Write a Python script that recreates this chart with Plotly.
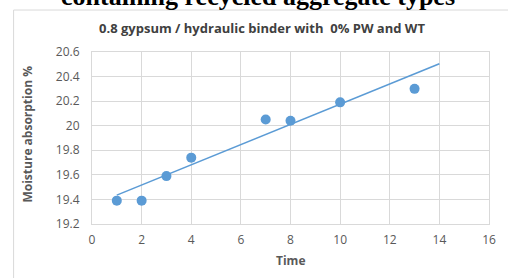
import plotly.graph_objects as go

# Data
time_vals = [1, 2, 3, 4, 7, 8, 10, 13]
moisture_vals = [19.39, 19.39, 19.59, 19.74, 20.05, 20.04, 20.19, 20.30]
trend_x = [1, 14]
trend_y = [19.435, 20.505]

x_ticks = [0, 2, 4, 6, 8, 10, 12, 14, 16]
y_ticks = [19.2, 19.4, 19.6, 19.8, 20.0, 20.2, 20.4, 20.6]
y_tick_text = ["19.2", "19.4", "19.6", "19.8", "20", "20.2", "20.4", "20.6"]

chart_title = "0.8 gypsum / hydraulic binder with&nbsp; 0% PW and WT"
caption_text = "containing recycled aggregate types"
x_title = "Time"
y_title = "Moisture absorption %"

blue = "#5b9bd5"
grid = "#d9d9d9"
label_col = "#595959"

fig = go.Figure()
fig.add_trace(go.Scatter(x=trend_x, y=trend_y, mode="lines",
                         line=dict(color=blue, width=1.6), hoverinfo="skip",
                         showlegend=False))
fig.add_trace(go.Scatter(x=time_vals, y=moisture_vals, mode="markers",
                         marker=dict(color=blue, size=10), showlegend=False))

fig.update_layout(
    width=508, height=278,
    margin=dict(l=92, r=16, t=52, b=54),
    paper_bgcolor="white", plot_bgcolor="white",
    font=dict(family="Open Sans", color=label_col, size=12),
    xaxis=dict(range=[0, 16], tickvals=x_ticks, showgrid=True, gridcolor=grid,
               gridwidth=1, showline=True, linecolor=grid, mirror=True,
               zeroline=False, ticks="outside", ticklen=5, tickcolor="rgba(0,0,0,0)",
               tickfont=dict(size=12, color=label_col)),
    yaxis=dict(range=[19.2, 20.6], tickvals=y_ticks, ticktext=y_tick_text,
               showgrid=True, gridcolor=grid, gridwidth=1, showline=True,
               linecolor=grid, mirror=True, zeroline=False, ticks="outside",
               ticklen=9, tickcolor="rgba(0,0,0,0)",
               tickfont=dict(size=12, color=label_col)),
    shapes=[dict(type="rect", xref="paper", yref="paper", x0=-0.1975, x1=1.2,
                 y0=-0.5, y1=1.244, line=dict(color=grid, width=1),
                 fillcolor="rgba(0,0,0,0)", layer="below")],
    annotations=[
        dict(text="<b>" + caption_text + "</b>", xref="paper", yref="paper",
             x=0.4175, y=1.3198, xanchor="center", yanchor="middle",
             showarrow=False,
             font=dict(family="Liberation Serif", size=26, color="black")),
        dict(text="<b>" + chart_title + "</b>", xref="paper", yref="paper",
             x=0.4275, y=1.1395, xanchor="center", yanchor="middle",
             showarrow=False, font=dict(family="Open Sans", size=13, color="#404040")),
        dict(text="<b>" + x_title + "</b>", xref="paper", yref="paper",
             x=0.501, y=-0.215, xanchor="center", yanchor="middle",
             showarrow=False, font=dict(family="Open Sans", size=12, color=label_col)),
        dict(text="<b>" + y_title + "</b>", xref="paper", yref="paper",
             x=-0.1625, y=0.523, xanchor="center", yanchor="middle",
             textangle=-90, showarrow=False,
             font=dict(family="Open Sans", size=12, color=label_col)),
    ],
)

fig.write_html("out.html", config={"displayModeBar": False},
               post_script="document.body.style.margin='0';")
